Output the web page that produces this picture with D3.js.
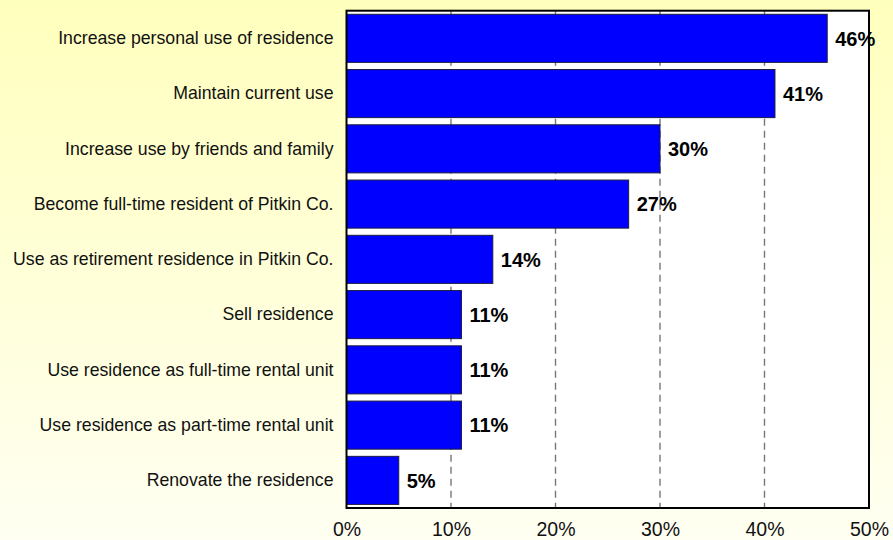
<!DOCTYPE html>
<html>
<head>
<meta charset="utf-8">
<script src="https://cdn.jsdelivr.net/npm/d3@7/dist/d3.min.js"></script>
<style>
  html, body { margin: 0; padding: 0; }
  svg { display: block; }
</style>
</head>
<body>
<script>
// Planned uses of the residence over the next years
const categories = [
  "Increase personal use of residence",
  "Maintain current use",
  "Increase use by friends and family",
  "Become full-time resident of Pitkin Co.",
  "Use as retirement residence in Pitkin Co.",
  "Sell residence",
  "Use residence as full-time rental unit",
  "Use residence as part-time rental unit",
  "Renovate the residence"
];
const values = [46, 41, 30, 27, 14, 11, 11, 11, 5];
const tickValues = [0, 10, 20, 30, 40, 50];

const W = 893, H = 540;
const plot = { left: 346.5, right: 869, top: 10.7, bottom: 508 };

const svg = d3.select("body").append("svg")
  .attr("width", W).attr("height", H);

const defs = svg.append("defs");
const grad = defs.append("linearGradient")
  .attr("id", "bg").attr("x1", 0).attr("y1", 0).attr("x2", 0).attr("y2", 1);
grad.append("stop").attr("offset", "0%").attr("stop-color", "#ffffbd");
grad.append("stop").attr("offset", "100%").attr("stop-color", "#fffff2");

svg.append("rect").attr("width", W).attr("height", H).attr("fill", "url(#bg)");

const x = d3.scaleLinear().domain([0, 50]).range([plot.left, plot.right]);
const y = d3.scaleBand().domain(categories)
  .range([plot.top, plot.bottom])
  .paddingInner(0.13).paddingOuter(0.065);

// plot area
svg.append("rect")
  .attr("x", plot.left).attr("y", plot.top)
  .attr("width", plot.right - plot.left).attr("height", plot.bottom - plot.top)
  .attr("fill", "#ffffff");

// dashed vertical gridlines
svg.append("g").selectAll("line")
  .data(tickValues.filter(d => d > 0 && d < 50))
  .join("line")
  .attr("x1", d => x(d)).attr("x2", d => x(d))
  .attr("y1", plot.top).attr("y2", plot.bottom)
  .attr("stroke", "#777").attr("stroke-width", 1.4)
  .attr("stroke-dasharray", "7,5");

// bars
svg.append("g").selectAll("rect")
  .data(values)
  .join("rect")
  .attr("x", x(0))
  .attr("y", (d, i) => y(categories[i]))
  .attr("width", d => x(d) - x(0))
  .attr("height", y.bandwidth())
  .attr("fill", "#0000ff")
  .attr("stroke", "#1a1a40").attr("stroke-width", 1);

// value labels
svg.append("g").selectAll("text")
  .data(values)
  .join("text")
  .attr("x", d => x(d) + 8)
  .attr("y", (d, i) => y(categories[i]) + y.bandwidth() / 2)
  .attr("dy", "0.36em")
  .attr("font-family", "Liberation Sans, Arial, sans-serif")
  .attr("font-weight", "bold")
  .attr("font-size", 20)
  .attr("fill", "#000")
  .text(d => d + "%");

// category labels
const yAxis = d3.axisLeft(y).tickSize(0).tickPadding(13);
const ya = svg.append("g").attr("transform", `translate(${plot.left},0)`).call(yAxis);
ya.select(".domain").remove();
ya.selectAll("text")
  .attr("font-family", "Liberation Sans, Arial, sans-serif")
  .attr("font-size", 17.7)
  .attr("fill", "#111");

// x axis tick labels
const xAxis = d3.axisBottom(x).tickValues(tickValues).tickSize(0).tickPadding(14)
  .tickFormat(d => d + "%");
const xa = svg.append("g").attr("transform", `translate(0,${plot.bottom})`).call(xAxis);
xa.select(".domain").remove();
xa.selectAll("text")
  .attr("font-family", "Liberation Sans, Arial, sans-serif")
  .attr("font-size", 19.5)
  .attr("fill", "#111");

// plot frame
svg.append("rect")
  .attr("x", plot.left).attr("y", plot.top)
  .attr("width", plot.right - plot.left).attr("height", plot.bottom - plot.top)
  .attr("fill", "none").attr("stroke", "#000").attr("stroke-width", 2);
</script>
</body>
</html>
